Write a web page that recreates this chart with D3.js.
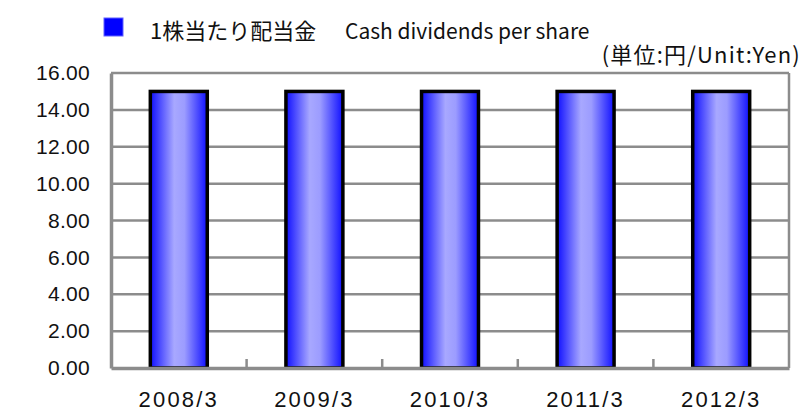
<!DOCTYPE html>
<html>
<head>
<meta charset="utf-8">
<script src="https://cdn.jsdelivr.net/npm/d3@7"></script>
<style>
  body { margin: 0; background: #fff; }
  svg { display: block; }
</style>
</head>
<body>
<svg id="svg" width="805" height="413"></svg>
<script>
// fiscal years and dividend per share (yen)
var years = ["2008/3", "2009/3", "2010/3", "2011/3", "2012/3"];
var dividends = [15, 15, 15, 15, 15];
var yTicks = [0, 2, 4, 6, 8, 10, 12, 14, 16];

var legendJa = "1株当たり配当金";
var legendEn = "Cash dividends per share";
var unitLabel = "(単位:円/Unit:Yen)";

var svg = d3.select("#svg");
var plotL = 111, plotR = 789, plotT = 73, plotB = 368;

var x = d3.scaleBand().domain(years).range([plotL, plotR]).paddingInner(0.58).paddingOuter(0.29);
var y = d3.scaleLinear().domain([0, 16]).range([plotB, plotT]);

// bar gradient, dark blue at the edges
var grad = svg.append("defs").append("linearGradient")
  .attr("id", "barGrad").attr("x1", "0").attr("x2", "1").attr("y1", "0").attr("y2", "0");
grad.append("stop").attr("offset", "0%").attr("stop-color", "#0f0fff");
grad.append("stop").attr("offset", "42%").attr("stop-color", "#a8a8ff");
grad.append("stop").attr("offset", "60%").attr("stop-color", "#9c9cff");
grad.append("stop").attr("offset", "100%").attr("stop-color", "#0f0fff");

// gridlines
svg.append("g")
  .selectAll("line").data(yTicks.slice(1)).enter()
  .append("line")
    .attr("x1", plotL).attr("x2", plotR)
    .attr("y1", function(d){ return y(d); })
    .attr("y2", function(d){ return y(d); })
    .attr("stroke", "#8c8c8c").attr("stroke-width", 2.5);

// right frame
svg.append("line")
  .attr("x1", plotR).attr("x2", plotR).attr("y1", plotT).attr("y2", plotB)
  .attr("stroke", "#8c8c8c").attr("stroke-width", 2.5);

// bars
svg.append("g")
  .selectAll("rect").data(dividends).enter()
  .append("rect")
    .attr("x", function(d, i){ return x(years[i]); })
    .attr("y", function(d){ return y(d); })
    .attr("width", x.bandwidth())
    .attr("height", function(d){ return y(0) - y(d); })
    .attr("fill", "url(#barGrad)")
    .attr("stroke", "#000").attr("stroke-width", 3.5);

// axes
var yAxis = svg.append("g")
  .attr("transform", "translate(" + plotL + ",0)")
  .call(d3.axisLeft(y).tickValues(yTicks).tickSize(0).tickPadding(21).tickFormat(d3.format(".2f")));
var step = x.step();
var xAxis = svg.append("g")
  .attr("transform", "translate(0," + plotB + ")")
  .call(d3.axisBottom(x).tickSize(0).tickPadding(0));

[yAxis, xAxis].forEach(function(a){
  a.select(".domain").attr("stroke", "#8c8c8c").attr("stroke-width", 3.5);
  a.selectAll("text").attr("fill", "#111").attr("font-family", "Liberation Sans, Arial, sans-serif");
});
yAxis.selectAll("text").attr("font-size", 21).attr("letter-spacing", 0.3);
xAxis.selectAll("text").attr("font-size", 22).attr("letter-spacing", 2.2)
  .attr("y", 39).attr("dy", null);

// category separators on the bottom axis
svg.append("g")
  .selectAll("line").data(years.slice(1)).enter()
  .append("line")
    .attr("x1", function(d){ return x(d) - (step - x.bandwidth()) / 2; })
    .attr("x2", function(d){ return x(d) - (step - x.bandwidth()) / 2; })
    .attr("y1", plotB).attr("y2", plotB - 9)
    .attr("stroke", "#8c8c8c").attr("stroke-width", 2.5);

// legend
svg.append("rect")
  .attr("x", 104).attr("y", 18).attr("width", 19).attr("height", 18)
  .attr("fill", "#0000ff").attr("stroke", "#6060ff").attr("stroke-width", 1);
var lg = svg.append("text")
  .attr("y", 39)
  .attr("font-family", "Noto Sans CJK JP, sans-serif").attr("font-size", 22)
  .attr("fill", "#111");
lg.append("tspan").attr("x", 150).text(legendJa);
lg.append("tspan").attr("x", 345).attr("font-size", 21).text(legendEn);
svg.append("text")
  .attr("x", 801).attr("y", 63).attr("text-anchor", "end")
  .attr("font-family", "Noto Sans CJK JP, sans-serif").attr("font-size", 22)
  .attr("letter-spacing", 1.2)
  .attr("fill", "#111")
  .text(unitLabel);
</script>
</body>
</html>
